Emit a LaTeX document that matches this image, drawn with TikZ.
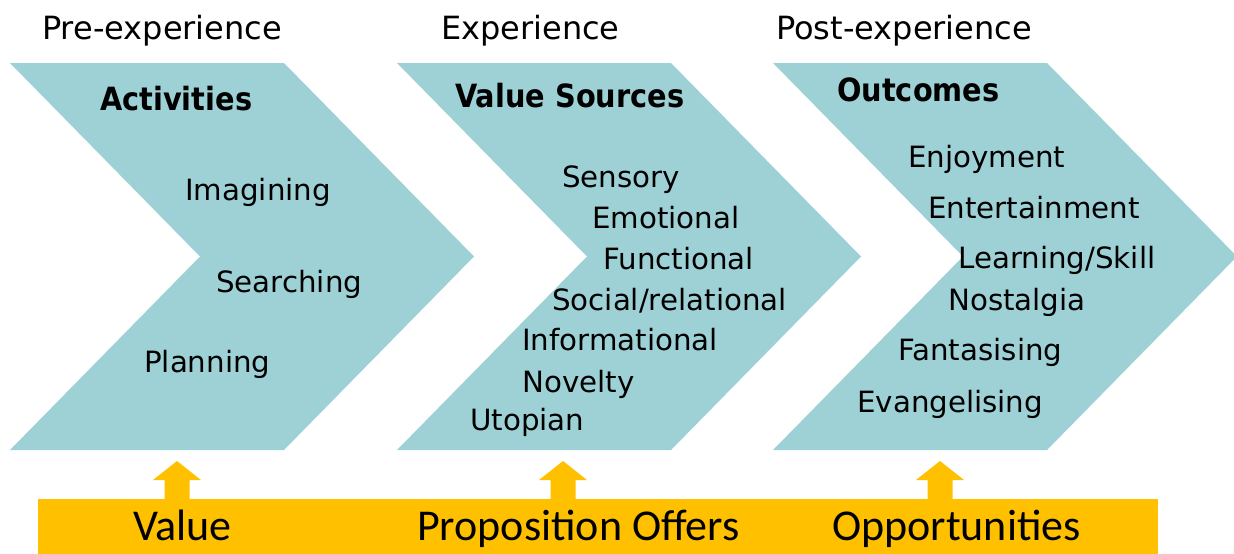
\documentclass[tikz,border=0pt]{standalone}
\usepackage{fontspec}
\setmainfont{DejaVu Sans}[BoldFeatures={FakeStretch=0.9}]
\newfontfamily\offerfont{Carlito}
\definecolor{chevteal}{RGB}{158,209,214}
\definecolor{offergold}{RGB}{255,192,0}

\begin{document}
\begin{tikzpicture}[x=1pt,y=-1pt,inner sep=0pt,
  phase/.style={anchor=base west,font=\fontsize{32}{38}\selectfont},
  head/.style={anchor=base west,font=\fontsize{32}{38}\selectfont\bfseries},
  item/.style={anchor=base west,font=\fontsize{29.3}{35}\selectfont},
  offer/.style={anchor=base west,font=\offerfont\fontsize{44}{50}\selectfont},
]
\useasboundingbox (0,0) rectangle (1234,554);
\foreach \x in {10,397,773}
  \fill[chevteal] (\x,63) -- ++(274,0) -- ++(190,193.5) -- ++(-190,193.5)
    -- ++(-274,0) -- ++(190,-193.5) -- cycle;
\node[fill=offergold,minimum width=1120pt,minimum height=56pt,anchor=north west] (bar) at (38,499) {};
\foreach \x in {177,563,940}
  \fill[offergold] (\x-12.5,500) -- (\x-12.5,480) -- (\x-24,480) -- (\x,461)
    -- (\x+24,480) -- (\x+12.5,480) -- (\x+12.5,500) -- cycle;

\node[phase] (pre) at (42,39) {Pre-experience};
\node[phase] (exp) at (441,39) {Experience};
\node[phase] (post) at (776,39) {Post-experience};

\node[head] (act) at (100,110) {Activities};
\node[item] (imag) at (185,200) {Imagining};
\node[item] (srch) at (216,292) {Searching};
\node[item] (plan) at (144,372) {Planning};

\node[head] (src) at (455,107) {Value Sources};
\node[item] (sens) at (562,187) {Sensory};
\node[item] (emo) at (592,228) {Emotional};
\node[item] (func) at (603,269) {Functional};
\node[item] (soc) at (552,310) {Social/relational};
\node[item] (info) at (522,350) {Informational};
\node[item] (nov) at (522,392) {Novelty};
\node[item] (utop) at (470,430) {Utopian};

\node[head] (out) at (837,101) {Outcomes};
\node[item] (enj) at (908,167) {Enjoyment};
\node[item] (ent) at (928,218) {Entertainment};
\node[item] (lrn) at (958,268) {Learning/Skill};
\node[item] (nost) at (948,310) {Nostalgia};
\node[item] (fant) at (898,360) {Fantasising};
\node[item] (evan) at (857,412) {Evangelising};

\node[offer] (val) at (133,540) {Value};
\node[offer] (prop) at (417,540) {Proposition Offers};
\node[offer] (opp) at (832,540) {Opportunities};
\end{tikzpicture}
\end{document}
